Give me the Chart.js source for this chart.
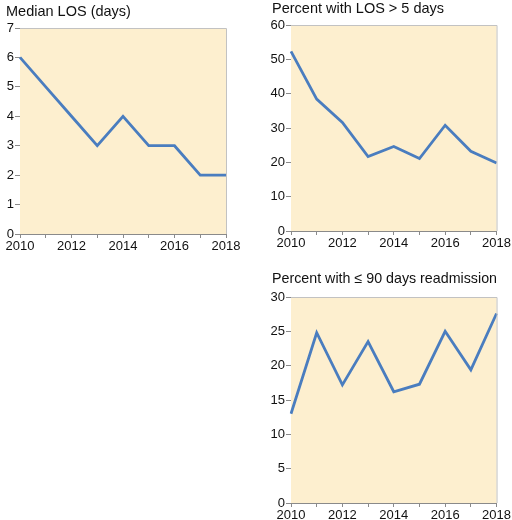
<!DOCTYPE html>
<html>
<head>
<meta charset="utf-8">
<script src="https://cdn.jsdelivr.net/npm/chart.js@4.4.0/dist/chart.umd.min.js"></script>
<style>
  html, body { margin: 0; padding: 0; background: #fff; }
  body { width: 512px; height: 520px; position: relative; overflow: hidden; }
  canvas { position: absolute; }
  #c1 { left: 0; top: 0; }
  #c2 { left: 256px; top: 0; }
  #c3 { left: 256px; top: 262px; }
</style>
</head>
<body>
<canvas id="c1" width="242" height="256"></canvas>
<canvas id="c2" width="256" height="256"></canvas>
<canvas id="c3" width="256" height="258"></canvas>
<script>
const years = ['2010', '2011', '2012', '2013', '2014', '2015', '2016', '2017', '2018'];
const medianLos = [6, 5, 4, 3, 4, 3, 3, 2, 2];
const pctLosOver5 = [52.3, 38.4, 31.6, 21.7, 24.6, 21.1, 30.8, 23.2, 19.8];
const pctReadmit90 = [13.0, 24.8, 17.2, 23.5, 16.2, 17.3, 25.0, 19.4, 27.6];

const FONT = "'Liberation Sans', Arial, Helvetica, sans-serif";
const lineColor = '#4a7dbf';
const plotBg = '#fdefcf';

// fondo del área, borde superior/derecho y corrimiento del título
const plotFrame = {
    id: 'plotFrame',
    afterLayout(chart, args, opts) {
        if (chart.titleBlock) {
            chart.titleBlock.left += opts.titleShift || 0;
        }
    },
    beforeDatasetsDraw(chart) {
        const { ctx, chartArea: a } = chart;
        ctx.save();
        ctx.fillStyle = plotBg;
        ctx.fillRect(a.left, a.top, a.right - a.left, a.bottom - a.top);
        ctx.restore();
    },
    afterDatasetsDraw(chart) {
        const { ctx, chartArea: a } = chart;
        ctx.save();
        ctx.strokeStyle = '#c2c2c2';
        ctx.lineWidth = 1;
        ctx.beginPath();
        ctx.moveTo(a.left, a.top + 0.5);
        ctx.lineTo(a.right + 0.5, a.top + 0.5);
        ctx.lineTo(a.right + 0.5, a.bottom);
        ctx.stroke();
        ctx.restore();
    }
};

function makeChart(id, title, values, yMax, yStep, lay) {
    return new Chart(document.getElementById(id), {
        type: 'line',
        data: {
            labels: years,
            datasets: [{
                data: values,
                borderColor: lineColor,
                borderWidth: 2.8,
                pointRadius: 0,
                tension: 0,
                fill: false
            }]
        },
        options: {
            responsive: false,
            animation: false,
            layout: {
                padding: { left: lay.padLeft, right: lay.padRight, top: 0, bottom: lay.padBottom }
            },
            plugins: {
                legend: { display: false },
                tooltip: { enabled: false },
                plotFrame: { titleShift: lay.titleShift },
                title: {
                    display: true,
                    text: title,
                    align: 'start',
                    color: '#111',
                    font: { family: FONT, size: 14.5, weight: 'normal', lineHeight: 1 },
                    padding: { top: lay.titleTop, bottom: lay.titleBottom }
                }
            },
            scales: {
                x: {
                    offset: false,
                    grid: { drawOnChartArea: false, drawTicks: true, tickLength: 4, tickColor: '#8a8a8a' },
                    border: { display: true, color: '#8a8a8a', width: 1 },
                    ticks: {
                        autoSkip: false,
                        maxRotation: 0,
                        padding: 1,
                        color: '#111',
                        font: { family: FONT, size: 13 },
                        callback: (v, i) => (i % 2 === 0 ? years[i] : '')
                    },
                    afterFit: s => { s.height = lay.xHeight; }
                },
                y: {
                    min: 0,
                    max: yMax,
                    grid: { drawOnChartArea: false, drawTicks: true, tickLength: 5, tickColor: '#8a8a8a' },
                    border: { display: true, color: '#8a8a8a', width: 1 },
                    ticks: {
                        stepSize: yStep,
                        padding: 1,
                        color: '#111',
                        font: { family: FONT, size: 13 }
                    },
                    afterFit: s => { s.width = lay.yWidth; }
                }
            }
        },
        plugins: [plotFrame]
    });
}

makeChart('c1', 'Median LOS (days)', medianLos, 7, 1,
    { padLeft: 0, padRight: 16, padBottom: 0, yWidth: 20, xHeight: 22, titleShift: 6, titleTop: 4.5, titleBottom: 9 });
makeChart('c2', 'Percent with LOS > 5 days', pctLosOver5, 60, 10,
    { padLeft: 6, padRight: 15, padBottom: 3, yWidth: 29, xHeight: 22, titleShift: 10, titleTop: 1.5, titleBottom: 9 });
makeChart('c3', 'Percent with \u2264 90 days readmission', pctReadmit90, 30, 5,
    { padLeft: 6, padRight: 15, padBottom: 0, yWidth: 29, xHeight: 17, titleShift: 10, titleTop: 9.25, titleBottom: 11.25 });
</script>
</body>
</html>
